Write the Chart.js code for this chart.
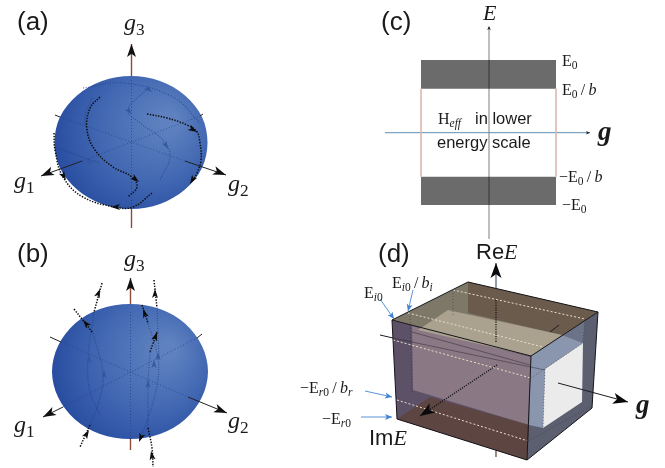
<!DOCTYPE html>
<html>
<head>
<meta charset="utf-8">
<script src="https://cdn.jsdelivr.net/npm/chart.js@4"></script>
<style>
html, body { margin: 0; background: #fff; }
canvas { display: block; filter: blur(0.4px); }
</style>
</head>
<body>
<canvas id="fig" width="665" height="468"></canvas>
<script>

// (a) sphere, outline overlaps itself at the top so the curve closes smoothly
const sphereA = [[102,81],[131,76],[160,81],[185,95.5],[202,117],[207.5,142.5],[202,168],[185,189.5],[160,204],[131,209],[102,204],[77,189.5],[60,168],[54.5,142.5],[60,117],[77,95.5],[102,81],[131,76],[160,81]];
const axesSolidA = [[[131.5,44],[131.5,76]],[[131.5,209],[131.5,228]]];
const axesBlackA = [[[82,161],[41,176]],[[185,161],[226,175]],[[55,115],[60,117]],[[203,114],[200,116]]];
const axesDottedA = [[[131.5,80],[131.5,209]],[[60,117],[185,161]],[[82,161],[200,116]]];
const curvesBlackA = [
  [[100,97],[90,108],[87,130],[95,150],[113,167],[132,177],[137,187],[128,197]],
  [[147,114],[167,118],[187,125],[197,132],[200,143],[201,160],[197,173],[192,182]],
  [[54,133],[55,150],[63,177],[83,197],[115,207],[133,207],[152,193]]
];
const curvesFaintA = [
  [[148,88],[128,110],[140,123],[163,140],[170,157],[160,180]],
  [[55,147],[85,158],[100,163]],
  [[83,88],[123,83],[173,97],[200,123]],
  [[92,98],[85,118],[90,140]]
];
const headsA = [[130,175,139,182],[185,125,197,132],[196,174,190,184],[60,170,66,180],[120,207,111,207]];
const headsFaintA = [[143,85,152,92],[84,161,94,163],[163,140,168,149],[126,108,132,114]];

// (b) sphere
const sphereB = [[100,309],[130,304],[160,309],[185,323.5],[202,346],[208,371.5],[202,397],[185,419.5],[160,434],[130,439],[100,434],[75,419.5],[58,397],[52,371.5],[58,346],[75,323.5],[100,309],[130,304],[160,309]];
const axesSolidB = [[[130.5,278],[130.5,304]],[[130.5,439],[130.5,450]]];
const axesBlackB = [[[63,407],[43,417]],[[188,397],[227,413]],[[50,337],[61,342]],[[202,334],[197,338]]];
const axesDottedB = [[[130.5,312],[130.5,439]],[[61,342],[188,397]],[[63,407],[197,338]]];
const curvesBlackB = [
  [[74,309],[93,333]],
  [[102,283],[94,312]],
  [[142,305],[148,323]],
  [[154,280],[157,308]],
  [[157,332],[150,352]],
  [[90,425],[80,447]],
  [[148,428],[152,448],[153,467]]
];
const curvesFaintB = [
  [[93,333],[103,375],[98,405],[90,425]],
  [[94,312],[88,358],[90,392],[100,415]],
  [[148,323],[158,358],[157,385],[148,418],[140,440]],
  [[157,308],[159,358]],
  [[150,352],[148,385],[148,428]]
];
const headsB = [[92,331,83,320],[94,305,100,289],[147,320,143,309],[155,302,155,289],[152,347,157,332],[82,442,89,430],[153,462,151,451],[143,432,139,442]];
const headsFaintB = [[89,365,89,355],[104,380,104,370],[148,390,148,380],[154,370,154,360],[158,362,158,352]];
const headsAxes = [[131.5,60,131.5,44],[60,168,41,176],[205,167,226,175],[130.5,292,130.5,278],[60,408,43,417],[210,406,227,413]];

// (c) band diagram
const axisEc = [[489,239],[489,27]];
const axisGc = [[385,132.7],[590,132.7]];
const bandTop = [[421,60],[556,60],[556,88.7],[421,88.7],[421,60]];
const bandBottom = [[421,176.7],[556,176.7],[556,205],[421,205],[421,176.7]];
const bandSides = [[[421,88.7],[421,176.7]],[[556,88.7],[556,176.7]]];
const headsC = [[489,34,489,26],[582,132.7,590,132.7]];

// (d) box
const boxRight = [[531,356],[598,312],[592,408],[527,460],[531,356]];
const boxRightGrey = [[562,335],[585,320],[583,343],[562,335]];
const boxRightGlow = [[531,356],[562,335],[583,343],[545,369],[543,428],[529,425],[531,356]];
const boxWhite = [[545,369],[583,343],[582,402],[543,428],[545,369]];
const boxFront = [[392,320],[531,356],[527,460],[397,419],[392,320]];
const boxFrontInner = [[412,326],[531,357],[529,425],[413,390],[412,326]];
const boxFloor = [[397,419],[430,397],[529,425],[527,460],[397,419]];
const boxTop = [[392,320],[468,282],[598,312],[531,356],[392,320]];
const boxTopBack = [[468,282],[598,312],[562,335],[468,313],[468,282]];
const boxTopInner = [[418,330],[448,310],[562,335],[531,356],[418,330]];
const boxEdges = [
  [[392,320],[468,282],[598,312],[531,356],[392,320]],
  [[392,320],[397,419],[527,460],[531,356]],
  [[527,460],[592,408],[598,312]]
];
const whiteDots = [[[453,290],[585,319]],[[408,313],[543,347]],[[393,340],[531,378]],[[397,400],[528,441]]];
const greyDots = [[[531,378],[583,343]],[[528,441],[590,407]],[[410,313],[412,392]],[[453,290],[453,315]],[[545,369],[543,428]],[[585,320],[583,343]]];
const axisReTop = [[496,263],[496,300]];
const axisReBottom = [[496,418],[496,457]];
const dottedRe = [[[496,300],[496,342]]];
const dottedIm = [[[497,365],[420,416]]];
const linesD = [[[380,335],[393,338]],[[550,332],[559,325]],[[558,383],[628,402]]];
const dimLinesD = [[[393,338],[545,370]],[[412,332],[530,365]]];
const blueArrows = [[[380,299],[394,319]],[[413,290],[408,311]],[[365,391],[392,397]],[[361,417],[392,417]]];
const headsD = [[496,280,496,263],[437,405,420,416],[612,398,628,402]];

// Text
const panelLabels = [['(a)',17,30],['(b)',17,262],['(c)',381,30],['(d)',378,262]];
const axisNames = [[124,30,'3'],[14,188,'1'],[228,191,'2'],[124,266,'3'],[14,432,'1'],[228,428,'2']];
const boldG = [[598,140],[636,413]];
const smallLabels = [
  [562,66,['E','_0']],
  [562,95,['E','_0','\u2009/\u2009','*b']],
  [559,182,['\u2212E','_0','\u2009/\u2009','*b']],
  [562,210,['\u2212E','_0']],
  [364,298,['E','_*i','_0']],
  [392,288,['E','_*i','_0','\u2009/\u2009','*b','_*i']],
  [300,393,['\u2212E','_*r','_0','\u2009/\u2009','*b','_*r']],
  [322,424,['\u2212E','_*r','_0']]
];
const bodyLines = [[475,124,'in lower'],[437,148,'energy scale']];
const bigSans = [[476,259,'Re','E'],[369,445,'Im','E']];

const SERIF = '"Liberation Serif", serif';
const SANS = '"Liberation Sans", sans-serif';
const BLUE_DOT = 'rgba(28,58,130,.65)';

const datasets = [];

function pts(list) {
  return list.map(p => ({ x: p[0], y: p[1] }));
}

function line(list, color, width, dash, tension) {
  datasets.push({
    data: pts(list), showLine: true, pointRadius: 0, fill: false,
    borderColor: color, borderWidth: width, borderDash: dash || [], tension: tension || 0
  });
}

function shape(list, color, tension) {
  datasets.push({
    data: pts(list), showLine: true, pointRadius: 0, fill: 'shape',
    backgroundColor: color, borderWidth: 0, borderColor: 'transparent', tension: tension || 0
  });
}

function sphereFill(cx, cy) {
  return function (c) {
    const kx = c.chart.width / 665, ky = c.chart.height / 468;
    const g = c.chart.ctx.createRadialGradient((cx + 38) * kx, (cy - 22) * ky, 8, (cx + 6) * kx, (cy - 6) * ky, 108);
    g.addColorStop(0, '#5f81bf');
    g.addColorStop(0.45, '#4369b3');
    g.addColorStop(0.8, '#2a4fa2');
    g.addColorStop(1, '#1c3f95');
    return g;
  };
}

// (a) and (b)
shape(sphereA, sphereFill(131, 142), 0.34);
shape(sphereB, sphereFill(130, 371), 0.34);
axesSolidA.concat(axesSolidB).forEach(l => line(l, '#8f4a3a', 1.4));
axesBlackA.concat(axesBlackB).forEach(l => line(l, '#222', 1));
axesDottedA.concat(axesDottedB).forEach(l => line(l, BLUE_DOT, 1, [1, 2]));
curvesFaintA.concat(curvesFaintB).forEach(l => line(l, BLUE_DOT, 1.1, [1, 1.5], 0.4));
curvesBlackA.concat(curvesBlackB).forEach(l => line(l, '#0d0d0d', 1.5, [1.4, 1.4], 0.4));

// (c)
line(axisEc, '#a3a3a3', 1.4);
line(axisGc, '#5f8fb4', 1);
shape(bandTop, 'rgba(0,0,0,.58)');
shape(bandBottom, 'rgba(0,0,0,.58)');
bandSides.forEach(l => line(l, '#dcb6ac', 0.8));

// (d)
line(axisReTop, '#4c5a6c', 1.2);
line(axisReBottom, '#5a3c34', 1.2);
shape(boxRight, '#5b5f70');
shape(boxRightGrey, '#6c7388');
shape(boxRightGlow, '#8a96ad');
shape(boxWhite, '#ebebeb');
shape(boxFront, '#5d5168');
shape(boxFrontInner, '#8a7884');
shape(boxFloor, '#5d4541');
shape(boxTop, '#7e7868');
shape(boxTopBack, '#6b5b4c');
shape(boxTopInner, '#aaa28e');
dimLinesD.forEach(l => line(l, 'rgba(30,28,40,.55)', 0.8));
whiteDots.forEach(l => line(l, '#efdccc', 1, [2, 2]));
greyDots.forEach(l => line(l, 'rgba(40,40,50,.55)', 0.8, [1, 2]));
linesD.forEach(l => line(l, '#1c1c22', 1));
boxEdges.forEach(l => line(l, '#15151a', 1));
dottedRe.concat(dottedIm).forEach(l => line(l, '#111', 1.2, [1.2, 1.2]));
blueArrows.forEach(l => line(l, '#5b93d8', 1));

function head(ctx, chart, h, len, half, color) {
  const { x, y } = chart.scales;
  const x0 = x.getPixelForValue(h[0]), y0 = y.getPixelForValue(h[1]);
  const x1 = x.getPixelForValue(h[2]), y1 = y.getPixelForValue(h[3]);
  const a = Math.atan2(y1 - y0, x1 - x0);
  ctx.save();
  ctx.translate(x1, y1);
  ctx.rotate(a);
  ctx.fillStyle = color;
  ctx.beginPath();
  ctx.moveTo(0, 0);
  ctx.lineTo(-len, -half);
  ctx.lineTo(-len * 0.75, 0);
  ctx.lineTo(-len, half);
  ctx.closePath();
  ctx.fill();
  ctx.restore();
}

function runs(ctx, chart, xv, yv, tokens, size) {
  let px = chart.scales.x.getPixelForValue(xv);
  const py = chart.scales.y.getPixelForValue(yv);
  tokens.forEach(t => {
    const sub = t[0] === '_';
    if (sub) t = t.slice(1);
    const it = t[0] === '*';
    if (it) t = t.slice(1);
    ctx.font = (it ? 'italic ' : '') + (sub ? size * 0.72 : size) + 'px ' + SERIF;
    ctx.fillText(t, px, py + (sub ? size * 0.2 : 0));
    px += ctx.measureText(t).width;
  });
}

const figureExtras = {
  id: 'figureExtras',
  afterDatasetsDraw(chart) {
    const ctx = chart.ctx;
    const { x, y } = chart.scales;
    // arrow heads
    headsAxes.forEach(h => head(ctx, chart, h, 13, 4.5, '#111'));
    headsA.concat(headsB).forEach(h => head(ctx, chart, h, 9, 3, '#0d0d0d'));
    headsFaintA.concat(headsFaintB).forEach(h => head(ctx, chart, h, 8, 2.5, '#34589f'));
    headsC.forEach(h => head(ctx, chart, h, 4, 1.8, '#222'));
    headsD.forEach(h => head(ctx, chart, h, 15, 5.5, '#0a0a0a'));
    blueArrows.forEach(l => head(ctx, chart, [l[0][0], l[0][1], l[1][0], l[1][1]], 7, 3, '#3f82d6'));

    ctx.save();
    ctx.fillStyle = '#1a1a1a';
    ctx.textBaseline = 'alphabetic';
    panelLabels.forEach(l => {
      ctx.font = '26px ' + SANS;
      ctx.fillText(l[0], x.getPixelForValue(l[1]), y.getPixelForValue(l[2]));
    });
    axisNames.forEach(l => runs(ctx, chart, l[0], l[1], ['*g', '_' + l[2]], 24));
    runs(ctx, chart, 483, 20, ['*E'], 22);
    boldG.forEach(l => {
      ctx.font = 'italic bold 27px ' + SERIF;
      ctx.fillText('g', x.getPixelForValue(l[0]), y.getPixelForValue(l[1]));
    });
    smallLabels.forEach(l => runs(ctx, chart, l[0], l[1], l[2], 16));
    runs(ctx, chart, 438, 124, ['H', '_*eff'], 16);
    ctx.font = '16.5px ' + SANS;
    bodyLines.forEach(l => ctx.fillText(l[2], x.getPixelForValue(l[0]), y.getPixelForValue(l[1])));
    bigSans.forEach(l => {
      ctx.font = '22px ' + SANS;
      const px = x.getPixelForValue(l[0]), py = y.getPixelForValue(l[1]);
      ctx.fillText(l[2], px, py);
      const w = ctx.measureText(l[2]).width;
      ctx.font = 'italic 22px ' + SERIF;
      ctx.fillText(l[3], px + w, py);
    });
    ctx.restore();
  }
};

// Chart.js paints the first dataset last, so flip to keep the order above
new Chart(document.getElementById('fig').getContext('2d'), {
  type: 'scatter',
  data: { datasets: datasets.reverse() },
  plugins: [figureExtras],
  options: {
    responsive: false,
    animation: false,
    layout: { padding: 0 },
    plugins: { legend: { display: false }, tooltip: { enabled: false } },
    scales: {
      x: { type: 'linear', min: 0, max: 665, display: false },
      y: { type: 'linear', min: 0, max: 468, reverse: true, display: false }
    }
  }
});
</script>
</body>
</html>
